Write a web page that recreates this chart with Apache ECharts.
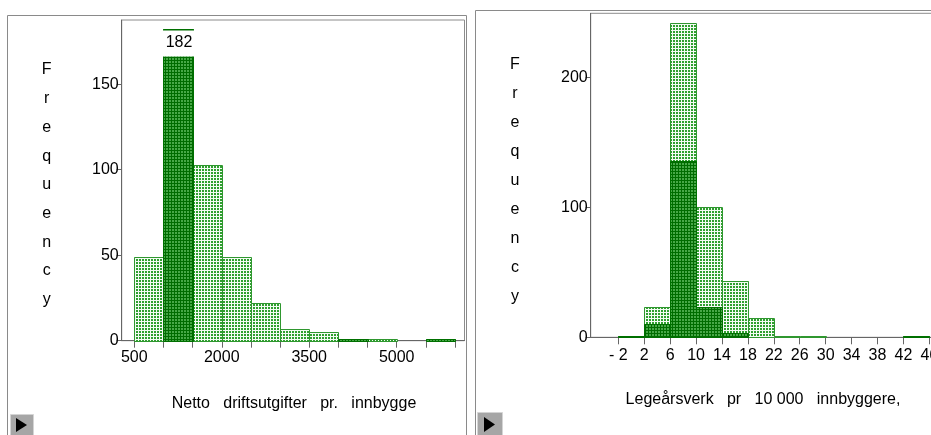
<!DOCTYPE html>
<html><head><meta charset="utf-8">
<script src="https://cdn.jsdelivr.net/npm/echarts@6/dist/echarts.min.js"></script>
<style>html,body{margin:0;padding:0;background:#fff}#c{width:931px;height:435px}</style>
</head><body><div id="c"></div>
<script>
// ---- data ----
const leftBinStart = [500, 1000, 1500, 2000, 2500, 3000, 3500, 4000, 4500, 5000, 5500];
const leftBinWidth = 500;
const leftTotal    = [49, 182, 103, 49, 22, 7, 5, 1, 1, 0, 1];
const leftSelected = [0, 182, 0, 0, 0, 0, 0, 1, 0, 0, 1];
const leftXTicks   = [500, 1000, 1500, 2000, 2500, 3000, 3500, 4000, 4500, 5000, 5500, 6000];
const leftXLabels  = [500, 2000, 3500, 5000];
const leftYLabels  = [0, 50, 100, 150];
const leftTitle    = 'Netto   driftsutgifter   pr.   innbygge';

const rightBinStart = [-2, 2, 6, 10, 14, 18, 22, 26, 30, 34, 38, 42];
const rightBinWidth = 4;
const rightTotal    = [1, 23, 242, 100, 43, 15, 1, 1, 0, 0, 0, 1];
const rightSelected = [1, 10, 136, 23, 3, 0, 0, 0, 0, 0, 0, 1];
const rightXLabels  = [-2, 2, 6, 10, 14, 18, 22, 26, 30, 34, 38, 42, 46];
const rightYLabels  = [0, 100, 200];
const rightTitle    = 'Legeårsverk   pr   10 000   innbyggere,';

const yName = 'Frequency';
const labelledBin = { left: 1 };  // bin whose count is printed

// ---- styles ----
const FONT = 'Liberation Sans, Arial, sans-serif';
const FS = 16;
function makePattern(lineColor, cellColor) {
  const c = document.createElement('canvas'); c.width = 3; c.height = 3;
  const g = c.getContext('2d');
  g.fillStyle = cellColor; g.fillRect(0, 0, 3, 3);
  g.fillStyle = lineColor; g.fillRect(0, 0, 3, 1); g.fillRect(0, 0, 1, 3);
  return c;
}
const lightFill = { image: makePattern('#f4fbf4', '#2f9f2f'), repeat: 'repeat' };
const darkFill  = { image: makePattern('#006c00', '#47a847'), repeat: 'repeat' };

function histRender(width, fill, stroke, labelIdx) {
  return function (params, api) {
    const x0 = api.value(0), v = api.value(1);
    if (!v) return null;
    const p0 = api.coord([x0, v]);
    const p1 = api.coord([x0 + width, 0]);
    const xl = Math.round(p0[0]), xr = Math.round(p1[0]);
    const yt = Math.round(p0[1]), yb = Math.round(p1[1]);
    const children = [{
      type: 'rect',
      shape: { x: xl + 0.5, y: yt + 0.5, width: xr - xl, height: Math.max(yb - yt, 1) },
      style: { fill: fill, stroke: stroke, lineWidth: 1 }
    }];
    if (params.dataIndex === labelIdx) {
      children.push({
        type: 'rect',
        shape: { x: xl, y: yt + 1.5, width: xr - xl + 1, height: 26 },
        style: { fill: '#ffffff' }
      });
      children.push({
        type: 'text',
        style: { text: String(v), x: (xl + xr) / 2 + 1, y: yt + 14, align: 'center', verticalAlign: 'middle',
                 font: FS + 'px ' + FONT, fill: '#000' }
      });
    }
    return { type: 'group', children: children };
  };
}

const axisLineStyle = { show: true, onZero: false, lineStyle: { color: '#666', width: 1 } };
const labelStyle = { color: '#000', fontSize: FS, fontFamily: FONT };

const chart = echarts.init(document.getElementById('c'), null, { renderer: 'canvas' });
chart.setOption({
  animation: false,
  backgroundColor: '#fff',
  grid: [
    { left: 121.7, top: 20, width: 342.8, height: 320.7, show: true, borderColor: '#8c8c8c', borderWidth: 1,
      containLabel: false, outerBoundsMode: 'none' },
    { left: 590.7, top: 13.3, width: 364.5, height: 324, show: true, borderColor: '#8c8c8c', borderWidth: 1,
      containLabel: false, outerBoundsMode: 'none' }
  ],
  xAxis: [
    { type: 'value', gridIndex: 0, min: 284, max: 6163, axisLine: axisLineStyle, splitLine: { show: false },
      axisTick: { show: true, length: 7, customValues: leftXTicks, lineStyle: { color: '#666' } },
      axisLabel: Object.assign({ customValues: leftXLabels, margin: 9, formatter: v => String(v) }, labelStyle) },
    { type: 'value', gridIndex: 1, min: -6.27, max: 50, axisLine: axisLineStyle, splitLine: { show: false },
      axisTick: { show: true, length: 7, customValues: rightXLabels, lineStyle: { color: '#666' } },
      axisLabel: Object.assign({ customValues: rightXLabels, margin: 10,
        formatter: v => (v < 0 ? '- ' + Math.abs(v) : String(v)) }, labelStyle) }
  ],
  yAxis: [
    { type: 'value', gridIndex: 0, min: 0, max: 187.5, axisLine: axisLineStyle, splitLine: { show: false },
      axisTick: { show: true, length: 5, customValues: leftYLabels, lineStyle: { color: '#666' } },
      axisLabel: Object.assign({ customValues: leftYLabels, margin: 3, formatter: v => String(v) }, labelStyle) },
    { type: 'value', gridIndex: 1, min: 0, max: 249.6, axisLine: axisLineStyle, splitLine: { show: false },
      axisTick: { show: true, length: 5, customValues: rightYLabels, lineStyle: { color: '#666' } },
      axisLabel: Object.assign({ customValues: rightYLabels, margin: 3, formatter: v => String(v) }, labelStyle) }
  ],
  series: [
    { type: 'custom', xAxisIndex: 0, yAxisIndex: 0, encode: { x: 0, y: 1 },
      data: leftBinStart.map((s, i) => [s, leftTotal[i]]),
      renderItem: histRender(leftBinWidth, lightFill, '#2f972f', -1) },
    { type: 'custom', xAxisIndex: 0, yAxisIndex: 0, encode: { x: 0, y: 1 },
      data: leftBinStart.map((s, i) => [s, leftSelected[i]]),
      renderItem: histRender(leftBinWidth, darkFill, '#007000', labelledBin.left) },
    { type: 'custom', xAxisIndex: 1, yAxisIndex: 1, encode: { x: 0, y: 1 },
      data: rightBinStart.map((s, i) => [s, rightTotal[i]]),
      renderItem: histRender(rightBinWidth, lightFill, '#2f972f', -1) },
    { type: 'custom', xAxisIndex: 1, yAxisIndex: 1, encode: { x: 0, y: 1 },
      data: rightBinStart.map((s, i) => [s, rightSelected[i]]),
      renderItem: histRender(rightBinWidth, darkFill, '#007000', -1) }
  ],
  graphic: [
    // outer panel frames
    { type: 'rect', shape: { x: 7.5, y: 15.5, width: 459, height: 440 }, style: { fill: null, stroke: '#8a8a8a', lineWidth: 1 }, z: -1 },
    { type: 'rect', shape: { x: 475.5, y: 10.5, width: 500, height: 440 }, style: { fill: null, stroke: '#8a8a8a', lineWidth: 1 }, z: -1 },
    // vertical "Frequency" labels
    { type: 'text', style: { text: yName.split('').join('\n'), x: 46.7, y: 55.7, align: 'center', verticalAlign: 'top',
        lineHeight: 28.7, font: FS + 'px ' + FONT, fill: '#000' } },
    { type: 'text', style: { text: yName.split('').join('\n'), x: 515, y: 50.5, align: 'center', verticalAlign: 'top',
        lineHeight: 29, font: FS + 'px ' + FONT, fill: '#000' } },
    // axis titles
    { type: 'text', style: { text: leftTitle, x: 294, y: 404, align: 'center', verticalAlign: 'middle', font: FS + 'px ' + FONT, fill: '#000' } },
    { type: 'text', style: { text: rightTitle, x: 763, y: 400, align: 'center', verticalAlign: 'middle', font: FS + 'px ' + FONT, fill: '#000' } },
    // play buttons
    { type: 'rect', shape: { x: 10.5, y: 414.5, width: 23, height: 22 }, style: { fill: '#a6a6a6', stroke: '#d4d4d4', lineWidth: 1 } },
    { type: 'polygon', shape: { points: [[16, 418], [16, 432], [27, 425]] }, style: { fill: '#000' } },
    { type: 'rect', shape: { x: 477.5, y: 412.5, width: 25, height: 24 }, style: { fill: '#a6a6a6', stroke: '#d4d4d4', lineWidth: 1 } },
    { type: 'polygon', shape: { points: [[484, 417], [484, 432], [495, 424.5]] }, style: { fill: '#000' } }
  ]
});
</script>
</body></html>
